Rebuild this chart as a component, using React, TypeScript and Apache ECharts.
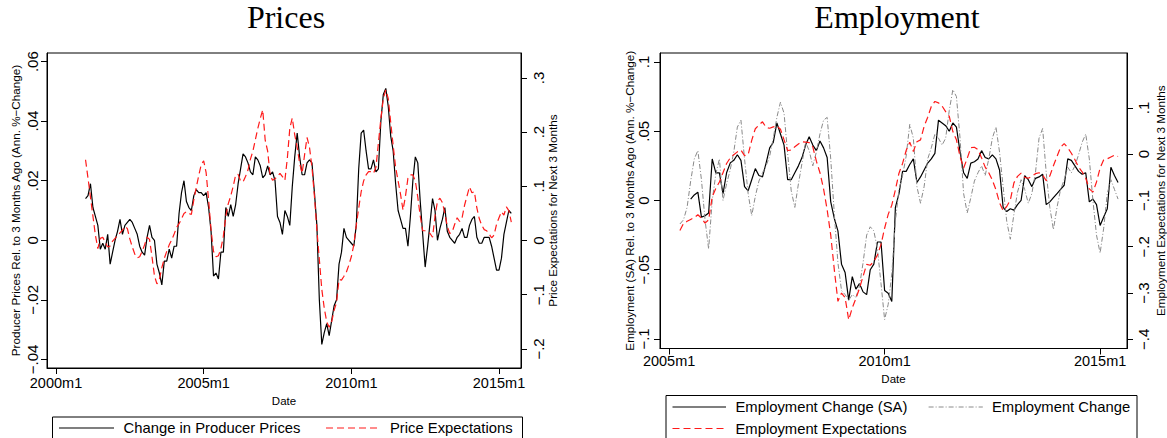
import React, { useEffect, useRef } from "react";
import * as echarts from "echarts";

// month index = months since 2000m1
const PPI_START = 12; // 2001m1
const ppiChange = [
  0.014, 0.015, 0.019, 0.011, 0.008, 0.005, -0.003, -0.001, -0.003, 0.002, -0.008, -0.004,
  0.000, 0.003, 0.007, 0.002, 0.005, 0.006, 0.007, 0.006, 0.004, 0.002, -0.002, -0.004,
  -0.005, 0.001, 0.005, 0.001, 0.000, -0.008, -0.011, -0.015, -0.007, -0.007, -0.003, -0.006,
  -0.002, -0.002, 0.009, 0.016, 0.020, 0.013, 0.011, 0.010, 0.015, 0.017, 0.016, 0.016,
  0.015, 0.016, 0.011, 0.003, -0.012, -0.011, -0.013, -0.004, -0.004, 0.011, 0.008, 0.012,
  0.008, 0.012, 0.019, 0.024, 0.029, 0.028, 0.026, 0.023, 0.022, 0.028, 0.027, 0.025,
  0.021, 0.022, 0.025, 0.022, 0.023, 0.020, 0.008, 0.006, 0.002, 0.010, 0.008, 0.005,
  0.018, 0.028, 0.036, 0.028, 0.022, 0.022, 0.026, 0.027, 0.026, 0.016, 0.005, -0.020,
  -0.035, -0.031, -0.028, -0.032, -0.027, -0.022, -0.020, -0.008, -0.004, 0.004, 0.001, 0.000,
  -0.001, -0.002, 0.005, 0.024, 0.036, 0.037, 0.030, 0.024, 0.024, 0.027, 0.023, 0.024,
  0.040, 0.049, 0.051, 0.045, 0.035, 0.030, 0.019, 0.010, 0.007, 0.004, 0.004, -0.002,
  0.008, 0.020, 0.028, 0.026, 0.013, 0.002, -0.009, -0.002, 0.006, 0.014, 0.010, 0.000,
  0.004, 0.007, 0.011, 0.003, 0.001, 0.000, -0.001, 0.001, 0.002, 0.004, 0.001, 0.001,
  0.005, 0.007, 0.008, 0.001, -0.001, -0.001, 0.001, 0.001, 0.001, -0.002, -0.006, -0.010,
  -0.010, -0.006, 0.002, 0.006, 0.010, 0.009,
];
const priceExpect = [
  0.149, 0.115, 0.080, 0.045, 0.010, -0.015, 0.004, 0.006, -0.003, -0.012, -0.010, -0.001,
  0.004, 0.009, 0.014, 0.019, 0.026, 0.022, 0.003, -0.012, -0.025, -0.032, -0.030, -0.020,
  -0.008, 0.006, 0.002, -0.030, -0.065, -0.080, -0.072, -0.050, -0.033, -0.020, -0.008, 0.001,
  0.012, 0.024, 0.031, 0.040, 0.050, 0.053, 0.050, 0.048, 0.075, 0.098, 0.120, 0.140,
  0.147, 0.125, 0.075, 0.020, -0.020, -0.030, -0.028, -0.015, 0.008, 0.045, 0.068, 0.082,
  0.100, 0.121, 0.122, 0.110, 0.108, 0.118, 0.130, 0.150, 0.165, 0.186, 0.207, 0.225,
  0.241, 0.185, 0.165, 0.121, 0.111, 0.114, 0.118, 0.124, 0.118, 0.111, 0.152, 0.207,
  0.226, 0.195, 0.172, 0.142, 0.124, 0.158, 0.190, 0.172, 0.135, 0.082, 0.020, -0.035,
  -0.090, -0.125, -0.150, -0.160, -0.150, -0.129, -0.114, -0.072, -0.073, -0.066, -0.058, -0.045,
  -0.030, -0.008, 0.028, 0.060, 0.090, 0.110, 0.121, 0.127, 0.127, 0.124, 0.135, 0.180,
  0.225, 0.262, 0.278, 0.262, 0.218, 0.175, 0.135, 0.110, 0.085, 0.056, 0.082, 0.115,
  0.121, 0.121, 0.110, 0.080, 0.045, 0.018, 0.018, 0.016, 0.013, 0.006, 0.045, 0.072,
  0.078, 0.070, 0.050, 0.026, 0.013, 0.016, 0.030, 0.042, 0.035, 0.042, 0.065, 0.082,
  0.099, 0.088, 0.090, 0.060, 0.040, 0.028, 0.020, 0.018, 0.012, 0.005, 0.010, 0.030,
  0.042, 0.053, 0.047, 0.062, 0.055, 0.034,
];

const EMP_SA_START = 66; // 2005m7
const empChangeSA = [
  0.001, 0.004, 0.006, -0.012, -0.011, -0.009,
  0.030, 0.020, 0.020, 0.005, 0.020, 0.027, 0.029, 0.033, 0.029, 0.010, 0.007, 0.015,
  0.023, 0.018, 0.017, 0.027, 0.038, 0.042, 0.056, 0.048, 0.040, 0.015, 0.015, 0.020,
  0.025, 0.031, 0.040, 0.046, 0.040, 0.036, 0.043, 0.038, 0.031, -0.001, -0.013, -0.022,
  -0.046, -0.052, -0.072, -0.055, -0.064, -0.060, -0.066, -0.068, -0.050, -0.046, -0.030, -0.030,
  -0.065, -0.067, -0.073, -0.005, 0.005, 0.021, 0.021, 0.026, 0.030, 0.013, 0.017, 0.022,
  0.027, 0.030, 0.034, 0.058, 0.056, 0.054, 0.050, 0.056, 0.053, 0.035, 0.020, 0.016,
  0.027, 0.028, 0.030, 0.036, 0.031, 0.030, 0.033, 0.030, 0.022, -0.005, -0.008, -0.006,
  -0.007, -0.003, 0.000, 0.018, 0.015, 0.010, 0.016, 0.017, 0.019, -0.003, -0.001, 0.002,
  0.005, 0.008, 0.011, 0.030, 0.029, 0.025, 0.021, 0.019, 0.020, -0.001, 0.001, -0.003,
  -0.018, -0.012, -0.006, 0.024, 0.018, 0.013,
];
const EMP_START = 63; // 2005m4
const empChange = [
  -0.017, -0.014, -0.005, 0.014, 0.030, 0.036, 0.015, -0.014, -0.035,
  0.000, 0.019, 0.030, 0.000, 0.012, 0.022, 0.035, 0.053, 0.058, 0.030, 0.005, -0.011,
  0.003, 0.014, 0.020, 0.025, 0.032, 0.045, 0.060, 0.071, 0.063, 0.034, 0.007, -0.005,
  0.012, 0.027, 0.042, 0.036, 0.025, 0.035, 0.048, 0.058, 0.060, 0.030, -0.010, -0.045,
  -0.065, -0.068, -0.072, -0.068, -0.070, -0.062, -0.045, -0.025, -0.019, -0.022, -0.035, -0.060,
  -0.086, -0.075, -0.053, -0.015, 0.008, 0.018, 0.032, 0.055, 0.045, 0.010, -0.002, 0.010,
  0.030, 0.038, 0.048, 0.045, 0.040, 0.045, 0.065, 0.080, 0.075, 0.045, 0.005, -0.009,
  0.002, 0.014, 0.020, 0.025, 0.018, 0.030, 0.045, 0.053, 0.035, 0.010, -0.015, -0.028,
  -0.010, 0.006, 0.015, 0.008, -0.002, 0.005, 0.020, 0.045, 0.052, 0.020, -0.005, -0.021,
  -0.005, 0.008, 0.015, 0.024, 0.020, 0.025, 0.033, 0.042, 0.048, 0.030, 0.000, -0.025,
  -0.038, -0.020, 0.005, 0.015, 0.008, 0.001,
];
const empExpect = [
  -0.165, -0.150, -0.145, -0.141, -0.137, -0.131, -0.138, -0.149, -0.142,
  -0.092, -0.074, -0.060, -0.040, -0.020, -0.008, -0.001, 0.005, 0.009, -0.003, -0.001, 0.030,
  0.055, 0.063, 0.070, 0.058, 0.056, 0.059, 0.061, 0.054, 0.031, 0.008, 0.009, 0.016,
  0.022, 0.027, 0.026, 0.025, 0.016, -0.015, -0.040, -0.075, -0.120, -0.175, -0.250, -0.318,
  -0.300, -0.310, -0.358, -0.332, -0.312, -0.290, -0.264, -0.238, -0.240, -0.232, -0.218, -0.195,
  -0.160, -0.130, -0.110, -0.077, -0.041, -0.020, 0.008, 0.026, 0.006, 0.027, 0.031, 0.060,
  0.080, 0.103, 0.114, 0.111, 0.104, 0.092, 0.082, 0.049, 0.031, -0.005, -0.030, -0.009,
  0.014, 0.015, 0.010, -0.008, -0.028, -0.040, -0.056, -0.077, -0.105, -0.122, -0.113, -0.099,
  -0.062, -0.048, -0.041, -0.050, -0.052, -0.048, -0.042, -0.040, -0.045, -0.057, -0.047, -0.025,
  -0.005, 0.015, 0.023, 0.014, 0.002, -0.012, -0.028, -0.038, -0.052, -0.075, -0.082, -0.060,
  -0.030, -0.012, -0.010, -0.006, -0.002, -0.005,
];

const priceYTicks = [-0.04, -0.02, 0, 0.02, 0.04, 0.06];
const priceExpTicks = [-0.2, -0.1, 0, 0.1, 0.2, 0.3];
const empYTicks = [-0.1, -0.05, 0, 0.05, 0.1];
const empExpTicks = [-0.4, -0.3, -0.2, -0.1, 0, 0.1];
const priceXTicks = [0, 60, 120, 180];
const empXTicks = [60, 120, 180];

const SANS = "Liberation Sans, Arial, sans-serif";
const SERIF = "Liberation Serif, Times New Roman, serif";

const toPairs = (start: number, arr: number[]) => arr.map((v, i) => [start + i, v]);
const monthLabel = (t: number) => `${2000 + Math.floor(t / 12)}m${(Math.round(t) % 12) + 1}`;
const numLabel = (v: number) => {
  if (Math.abs(v) < 1e-9) return "0";
  const s = parseFloat(Math.abs(v).toFixed(4)).toString().replace(/^0/, "");
  return (v < 0 ? "\u2212" : "") + s;
};

const yAxisBase = (
  gridIndex: number,
  position: string,
  min: number,
  max: number,
  ticks: number[],
  name: string,
  nameGap: number,
  margin: number
) => ({
  type: "value",
  gridIndex,
  position,
  min,
  max,
  name,
  nameLocation: "middle",
  nameGap,
  nameRotate: 90,
  nameTextStyle: { fontSize: 11.7, fontFamily: SANS, color: "#000" },
  axisLine: { show: true, onZero: false, lineStyle: { color: "#000", width: 1 } },
  axisTick: { show: true, length: 6, customValues: ticks, lineStyle: { color: "#000", width: 1 } },
  axisLabel: {
    customValues: ticks,
    rotate: 90,
    margin,
    formatter: numLabel,
    fontSize: 15,
    fontFamily: SANS,
    color: "#000",
  },
  splitLine: { show: false },
});

const xAxisBase = (
  gridIndex: number,
  min: number,
  max: number,
  ticks: number[],
  nameGap: number,
  margin: number
) => ({
  type: "value",
  gridIndex,
  min,
  max,
  name: "Date",
  nameLocation: "middle",
  nameGap,
  nameTextStyle: { fontSize: 11.5, fontFamily: SANS, color: "#000" },
  axisLine: { show: true, onZero: false, lineStyle: { color: "#000", width: 1 } },
  axisTick: { show: true, length: 6, customValues: ticks, lineStyle: { color: "#000", width: 1 } },
  axisLabel: {
    customValues: ticks,
    margin,
    formatter: monthLabel,
    fontSize: 14.5,
    fontFamily: SANS,
    color: "#000",
  },
  splitLine: { show: false },
});

const legendText = (x: number, y: number, text: string) => ({
  type: "text",
  x,
  y,
  style: { text, fontSize: 14.8, fontFamily: SANS, fill: "#000", verticalAlign: "middle", align: "left" },
});
const legendLine = (x1: number, x2: number, y: number, stroke: string, lineDash: any, lineWidth = 1.2) => ({
  type: "line",
  shape: { x1, y1: y, x2, y2: y },
  style: { stroke, lineWidth, lineDash },
});

export default function App() {
  const ref = useRef<HTMLDivElement>(null);
  useEffect(() => {
    if (!ref.current) return;
    const chart = echarts.init(ref.current, undefined, { renderer: "svg" });
    const option: any = {
      animation: false,
      backgroundColor: "#fff",
      grid: [
        { left: 47, top: 53, width: 474, height: 315, show: true, borderColor: "#000", borderWidth: 1, backgroundColor: "#fff" },
        { left: 660, top: 53, width: 476, height: 295.5, show: true, borderColor: "#000", borderWidth: 1, backgroundColor: "#fff" },
      ],
      xAxis: [xAxisBase(0, -3.66, 188.94, priceXTicks, 26, 7), xAxisBase(1, 57.46, 187.49, empXTicks, 23, 4.5)],
      yAxis: [
        yAxisBase(0, "left", -0.0429, 0.0629, priceYTicks, "Producer Prices Rel. to 3 Months Ago (Ann. %\u2212Change)", 26, 7),
        yAxisBase(0, "right", -0.2352, 0.3459, priceExpTicks, "Price Expectations for Next 3 Months", 22, 10),
        yAxisBase(1, "left", -0.1069, 0.1065, empYTicks, "Employment (SA) Rel. to 3 Months Ago (Ann. %\u2212Change)", 23.5, 9),
        yAxisBase(1, "right", -0.4199, 0.2187, empExpTicks, "Employment Expectations for Next 3 Months", 27, 9),
      ],
      series: [
        {
          name: "Change in Producer Prices",
          type: "line",
          xAxisIndex: 0,
          yAxisIndex: 0,
          data: toPairs(PPI_START, ppiChange),
          symbol: "none",
          silent: true,
          lineStyle: { color: "#000", width: 1.2 },
        },
        {
          name: "Price Expectations",
          type: "line",
          xAxisIndex: 0,
          yAxisIndex: 1,
          data: toPairs(PPI_START, priceExpect),
          symbol: "none",
          silent: true,
          lineStyle: { color: "#ff1a1a", width: 1.2, type: [7, 4] },
        },
        {
          name: "Employment Change (SA)",
          type: "line",
          xAxisIndex: 1,
          yAxisIndex: 2,
          data: toPairs(EMP_SA_START, empChangeSA),
          symbol: "none",
          silent: true,
          lineStyle: { color: "#000", width: 1.2 },
        },
        {
          name: "Employment Change",
          type: "line",
          xAxisIndex: 1,
          yAxisIndex: 2,
          data: toPairs(EMP_START, empChange),
          symbol: "none",
          silent: true,
          lineStyle: { color: "#8a8a8a", width: 1, type: [5, 2, 1, 2] },
        },
        {
          name: "Employment Expectations",
          type: "line",
          xAxisIndex: 1,
          yAxisIndex: 3,
          data: toPairs(EMP_START, empExpect),
          symbol: "none",
          silent: true,
          lineStyle: { color: "#ff1a1a", width: 1.2, type: [7, 4] },
        },
      ],
      graphic: [
        {
          type: "text",
          x: 286,
          y: 17,
          style: { text: "Prices", fontSize: 32, fontFamily: SERIF, fill: "#000", align: "center", verticalAlign: "middle" },
        },
        {
          type: "text",
          x: 897,
          y: 17,
          style: { text: "Employment", fontSize: 32, fontFamily: SERIF, fill: "#000", align: "center", verticalAlign: "middle" },
        },
        // left legend
        { type: "rect", shape: { x: 52.5, y: 417, width: 470, height: 40 }, style: { fill: "#fff", stroke: "#000", lineWidth: 1 } },
        legendLine(59, 114, 428, "#000", null),
        legendText(123.6, 428, "Change in Producer Prices"),
        legendLine(326, 381, 428, "#ff1a1a", [7, 4]),
        legendText(390, 428, "Price Expectations"),
        // right legend
        { type: "rect", shape: { x: 666, y: 395.5, width: 471, height: 60 }, style: { fill: "#fff", stroke: "#000", lineWidth: 1 } },
        legendLine(672.5, 726, 407, "#000", null),
        legendText(735.5, 407, "Employment Change (SA)"),
        legendLine(928.6, 982.8, 407, "#8a8a8a", [5, 2, 1, 2], 1),
        legendText(992, 407, "Employment Change"),
        legendLine(672.5, 726, 428.5, "#ff1a1a", [7, 4]),
        legendText(735.5, 428.5, "Employment Expectations"),
      ],
    };
    chart.setOption(option);
    return () => chart.dispose();
  }, []);
  return (
    <div
      ref={ref}
      style={{ position: "absolute", left: 0, top: 0, width: 1167, height: 438, background: "#fff" }}
    />
  );
}
